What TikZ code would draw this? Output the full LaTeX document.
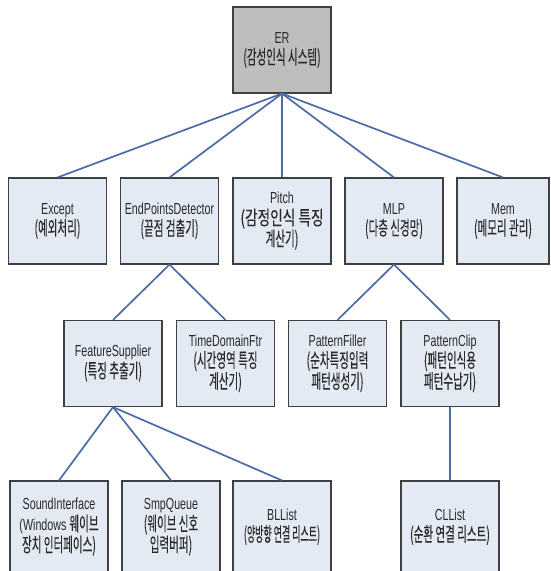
\documentclass[tikz,border=0pt]{standalone}
\usepackage{fontspec}
\setmainfont{Liberation Sans}[FakeStretch=0.67]
\newfontfamily\kr{Noto Sans CJK KR}[FakeStretch=0.54,Scale=1.22,FakeBold=0.12]
\newfontfamily\krw{Noto Sans CJK KR}[FakeStretch=0.7,Scale=1.22,FakeBold=0.12]
\newfontfamily\krs{Noto Sans CJK KR}[FakeStretch=0.46,Scale=1.22,FakeBold=0.12]
\usepackage{tikz}
\usetikzlibrary{positioning}
\definecolor{boxfill}{HTML}{E4EAF4}
\definecolor{rootfill}{HTML}{BEBEBE}
\definecolor{edgeblue}{HTML}{4A6CA6}
\definecolor{boxline}{HTML}{404040}
\definecolor{labeltext}{HTML}{2A2A2A}
\tikzset{
	unit/.style={draw=boxline,line width=1.1pt,fill=boxfill,text=labeltext,minimum width=98pt,minimum height=86pt,align=center,inner sep=1pt,font=\fontsize{16}{21}\selectfont},
	root/.style={unit,fill=rootfill},
	leaf/.style={unit,minimum height=92pt},
	link/.style={draw=edgeblue,line width=1.7pt}
}
\begin{document}
\begin{tikzpicture}[x=1pt,y=-1pt]
	\useasboundingbox (0,0) rectangle (550,571);
	\clip (0,0) rectangle (550,571);
	\def\ra{221}   % first level
	\def\rb{363.5} % second level
	\def\rc{527}   % third level
	\node[root] (er) at (282,50) {ER\\{\kr (감성인식 시스템)}};
	% first level
	\node[unit] (except) at (57.5,\ra) {Except\\{\kr (예외처리)}};
	\node[unit] (epd) at (169.5,\ra) {EndPointsDetector\\{\kr (끝점 검출기)}};
	\node[unit] (pitch) at (282,\ra) {Pitch\\{\krw (감정인식 특징}\\{\kr 계산기)}};
	\node[unit] (mlp) at (394,\ra) {MLP\\{\kr (다층 신경망)}};
	\node[unit,minimum width=92pt] (mem) at (503,\ra) {Mem\\{\kr (메모리 관리)}};
	% second level
	\node[unit] (feat) at (113,\rb) {FeatureSupplier\\{\kr (특징 추출기)}};
	\node[unit] (tdf) at (225.5,\rb) {TimeDomainFtr\\{\kr (시간영역 특징}\\{\kr 계산기)}};
	\node[unit] (pfill) at (337.5,\rb) {PatternFiller\\{\kr (순차특징입력}\\{\kr 패턴생성기)}};
	\node[unit] (pclip) at (450,\rb) {PatternClip\\{\kr (패턴인식용}\\{\kr 패턴수납기)}};
	% third level
	\node[leaf] (sound) at (59,\rc) {SoundInterface\\(Windows {\kr 웨이브}\\{\kr 장치 인터페이스)}};
	\node[leaf] (smpq) at (171,\rc) {SmpQueue\\{\kr (웨이브 신호}\\{\kr 입력버퍼)}};
	\node[leaf] (bll) at (282,\rc) {BLList\\{\krs (양방향 연결 리스트)}};
	\node[leaf] (cll) at (450,\rc) {CLList\\{\kr (순환 연결 리스트)}};
	% connectors
	\foreach \t in {except,epd,pitch,mlp,mem} \draw[link] (er.south) -- (\t.north);
	\foreach \t in {feat,tdf} \draw[link] (epd.south) -- (\t.north);
	\foreach \t in {pfill,pclip} \draw[link] (mlp.south) -- (\t.north);
	\foreach \t in {sound,smpq,bll} \draw[link] (feat.south) -- (\t.north);
	\draw[link] (pclip.south) -- (cll.north);
\end{tikzpicture}
\end{document}
